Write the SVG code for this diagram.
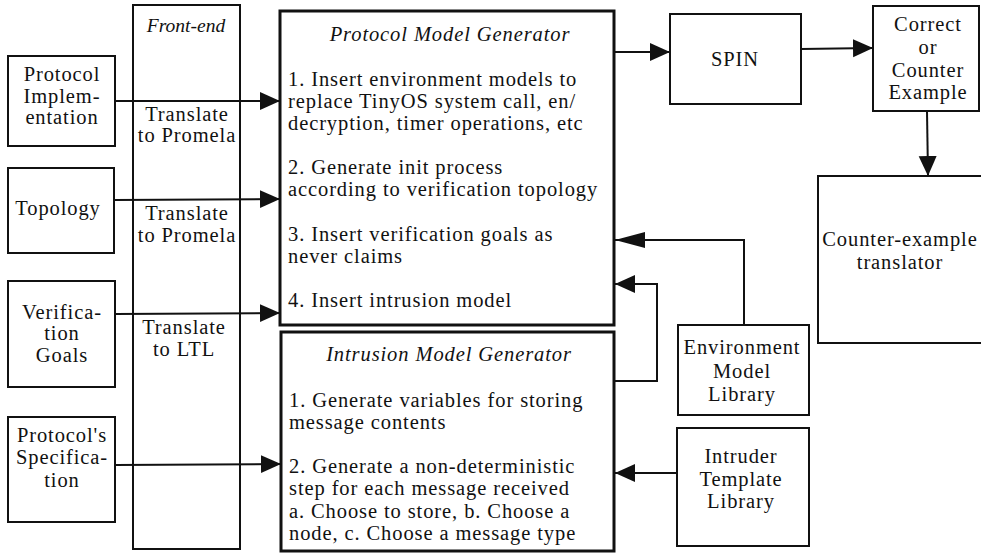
<svg xmlns="http://www.w3.org/2000/svg" width="981" height="553" viewBox="0 0 981 553">
<style>
text{font-family:"Liberation Serif","Times New Roman",serif;font-size:20.5px;letter-spacing:0.9px;fill:#111}
.c{text-anchor:middle}
.i{font-style:italic}
.fe{font-style:italic;font-size:19.5px;letter-spacing:0}
.box{fill:#fff;stroke:#111;stroke-width:2}
.big{fill:#fff;stroke:#111;stroke-width:3}
.ln{fill:none;stroke:#111;stroke-width:2}
</style>
<defs>
<marker id="ah" markerUnits="userSpaceOnUse" markerWidth="22" markerHeight="20" refX="20" refY="9" orient="auto">
<path d="M0,0 L20,9 L0,18 Z" fill="#111"/>
</marker>
<marker id="ah2" markerUnits="userSpaceOnUse" markerWidth="32" markerHeight="18" refX="30" refY="8" orient="auto">
<path d="M0,0 L30,8 L0,16 Z" fill="#111"/>
</marker>
</defs>
<g id="frontend">
<rect class="box" x="133" y="5" width="107" height="544"/>
<text class="fe c" x="186" y="32">Front-end</text>
<text class="c" x="187" y="121">Translate</text>
<text class="c" x="187" y="142">to Promela</text>
<text class="c" x="187" y="220">Translate</text>
<text class="c" x="187" y="242">to Promela</text>
<text class="c" x="184" y="334">Translate</text>
<text class="c" x="184" y="356">to LTL</text>
</g>
<g id="protocol-impl">
<rect class="box" x="8" y="56" width="107" height="90"/>
<text class="c" x="62" y="81">Protocol</text>
<text class="c" x="62" y="103">Implem-</text>
<text class="c" x="62" y="124">entation</text>
</g>
<g id="topology">
<rect class="box" x="8" y="168" width="106" height="85"/>
<text class="c" x="58" y="215">Topology</text>
</g>
<g id="verification-goals">
<rect class="box" x="8" y="281" width="107" height="106"/>
<text class="c" x="62" y="319">Verifica-</text>
<text class="c" x="62" y="340">tion</text>
<text class="c" x="62" y="362">Goals</text>
</g>
<g id="protocol-spec">
<rect class="box" x="8" y="417" width="107" height="105"/>
<text class="c" x="62" y="442">Protocol's</text>
<text class="c" x="62" y="464">Specifica-</text>
<text class="c" x="62" y="487">tion</text>
</g>
<g id="protocol-model-generator">
<rect class="big" x="280" y="11" width="334" height="314"/>
<text class="c i" x="450" y="41">Protocol Model Generator</text>
<text x="288" y="86">1. Insert environment models to</text>
<text x="288" y="108">replace TinyOS system call,  en/</text>
<text x="288" y="130">decryption, timer operations, etc</text>
<text x="288" y="174">2. Generate init process</text>
<text x="288" y="196">according to verification topology</text>
<text x="288" y="241">3. Insert verification goals as</text>
<text x="288" y="263">never claims</text>
<text x="288" y="307">4. Insert intrusion model</text>
</g>
<g id="intrusion-model-generator">
<rect class="big" x="281" y="332" width="333" height="219"/>
<text class="c i" x="449" y="361">Intrusion Model Generator</text>
<text x="289" y="407">1. Generate variables for storing</text>
<text x="289" y="429">message contents</text>
<text x="289" y="473">2. Generate a non-deterministic</text>
<text x="289" y="495">step for each message received</text>
<text x="289" y="518">a. Choose to store, b. Choose a</text>
<text x="289" y="540">node, c. Choose a message type</text>
</g>
<g id="spin">
<rect class="box" x="670" y="14" width="131" height="90"/>
<text class="c" x="735" y="66">SPIN</text>
</g>
<g id="correct-or-counter">
<rect class="box" x="873" y="6" width="106" height="105"/>
<text class="c" x="928" y="31">Correct</text>
<text class="c" x="928" y="54">or</text>
<text class="c" x="928" y="77">Counter</text>
<text class="c" x="928" y="99">Example</text>
</g>
<g id="counter-example-translator">
<rect class="box" x="818" y="176" width="170" height="167"/>
<text class="c" x="900" y="246">Counter-example</text>
<text class="c" x="900" y="269">translator</text>
</g>
<g id="environment-model-library">
<rect class="box" x="678" y="325" width="131" height="90"/>
<text class="c" x="742" y="354">Environment</text>
<text class="c" x="742" y="378">Model</text>
<text class="c" x="742" y="401">Library</text>
</g>
<g id="intruder-template-library">
<rect class="box" x="677" y="428" width="132" height="118"/>
<text class="c" x="741" y="463">Intruder</text>
<text class="c" x="741" y="486">Template</text>
<text class="c" x="741" y="508">Library</text>
</g>
<g id="connectors">
<path class="ln" d="M115,101 L280,101" marker-end="url(#ah)"/>
<path class="ln" d="M114,200 L280,199" marker-end="url(#ah)"/>
<path class="ln" d="M115,314 L280,313" marker-end="url(#ah)"/>
<path class="ln" d="M115,465 L281,464" marker-end="url(#ah)"/>
<path class="ln" d="M614,52 L670,52" marker-end="url(#ah)"/>
<path class="ln" d="M801,49 L873,48" marker-end="url(#ah)"/>
<path class="ln" d="M927,111 L928,176" marker-end="url(#ah)"/>
<path class="ln" d="M744,325 L744,240 L615,240" marker-end="url(#ah2)"/>
<path class="ln" d="M614,381 L657,381 L657,284 L615,284" marker-end="url(#ah)"/>
<path class="ln" d="M677,473 L615,473" marker-end="url(#ah)"/>
</g>
</svg>
